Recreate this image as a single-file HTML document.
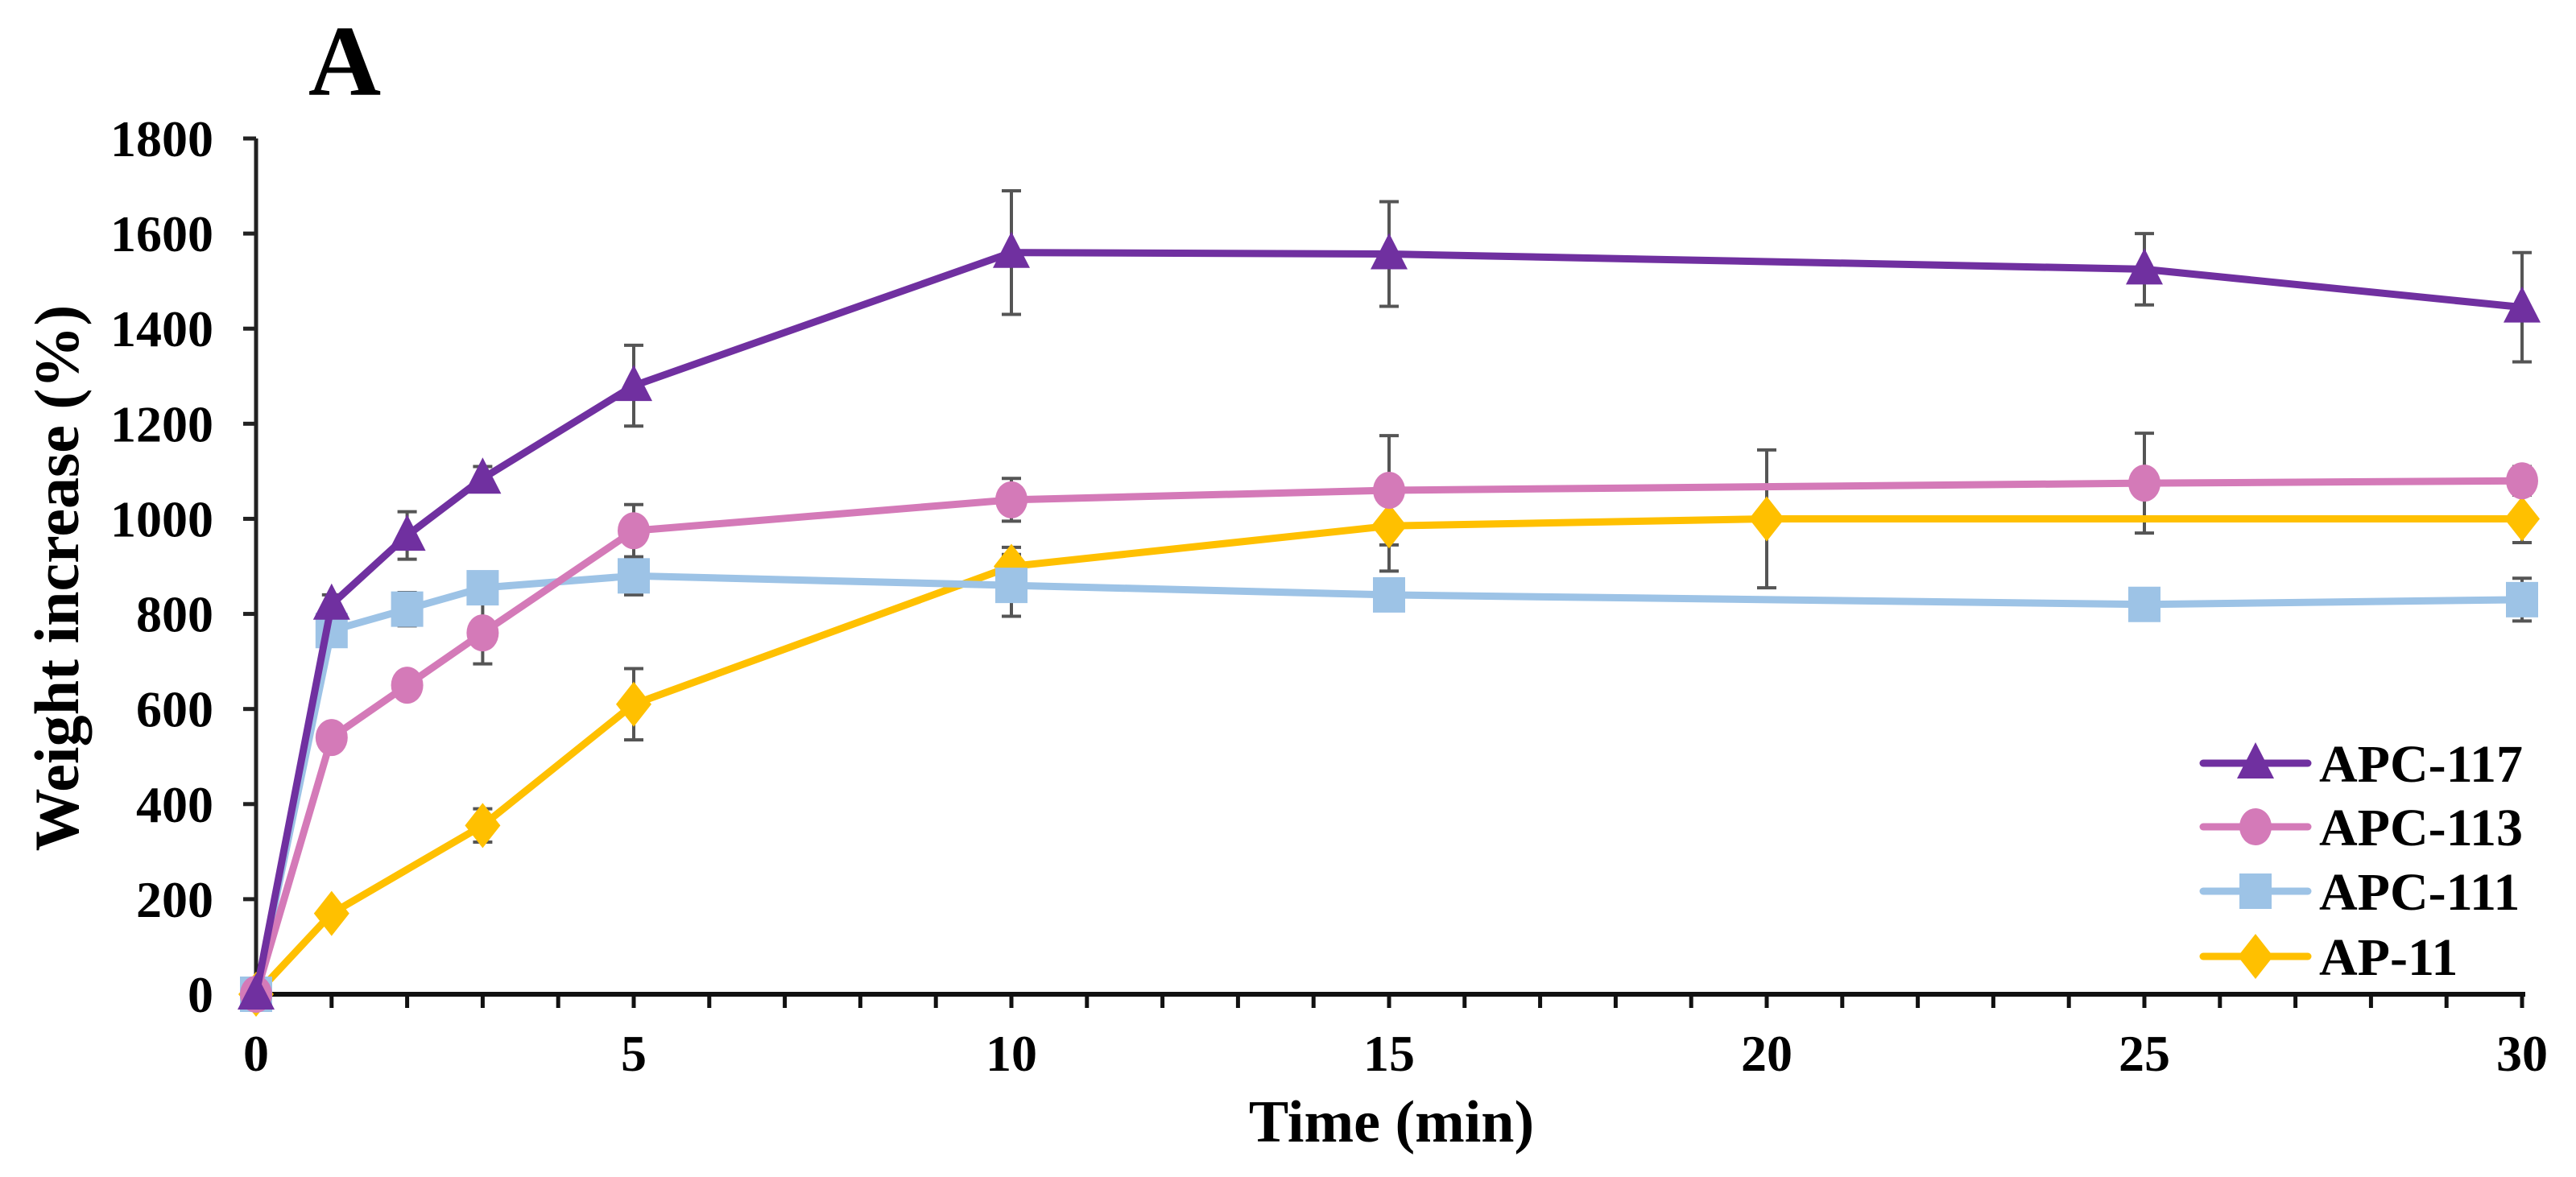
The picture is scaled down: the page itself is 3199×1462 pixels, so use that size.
<!DOCTYPE html>
<html><head><meta charset="utf-8"><style>
html,body{margin:0;padding:0;background:#fff;}
svg{display:block;font-family:"Liberation Serif",serif;font-weight:bold;}
</style></head><body>
<svg id="chart" width="3199" height="1462" viewBox="0 0 3199 1462" xmlns="http://www.w3.org/2000/svg">
<text x="428" y="118" font-size="125" text-anchor="middle">A</text>
<text transform="translate(97,718) rotate(-90)" font-size="78" text-anchor="middle">Weight increase (%)</text>
<text x="1728" y="1418" font-size="74" text-anchor="middle">Time (min)</text>
<g id="axes"></g><g id="marks"></g><g id="legend"></g>
</svg>
<script>
const yTicks=[0,200,400,600,800,1000,1200,1400,1600,1800];
const xTicks=[0,5,10,15,20,25,30];
const seriesNames=["APC-117","APC-113","APC-111","AP-11"];
const t117=[0,1,2,3,5,10,15,25,30];
const v117=[0,820,965,1085,1280,1560,1557,1525,1445];
const e117=[0,20,50,25,85,130,110,75,115];
const t113=[0,1,2,3,5,10,15,25,30];
const v113=[0,540,650,760,975,1040,1060,1075,1080];
const e113=[0,15,15,65,55,45,115,105,30];
const t111=[0,1,2,3,5,10,15,25,30];
const v111=[0,765,810,855,880,860,840,820,830];
const e111=[0,15,35,20,40,65,10,10,45];
const t11=[0,1,3,5,10,15,20,30];
const v11=[0,170,355,610,900,985,1000,1000];
const e11=[0,15,35,75,40,95,145,50];

const NS="http://www.w3.org/2000/svg";
const X0=318,X1=3132,Y0=1235,Y1=172;
const xs=t=>X0+(X1-X0)*t/30;
const ys=v=>Y0-(Y0-Y1)*v/1800;
function mk(tag,attrs,parent){const e=document.createElementNS(NS,tag);for(const k in attrs)e.setAttribute(k,attrs[k]);parent.appendChild(e);return e;}
const axes=document.getElementById('axes'),marks=document.getElementById('marks'),legend=document.getElementById('legend');

let yl=mk('line',{x1:X0,y1:Y1,x2:X0,y2:Y0,stroke:'#222','stroke-width':5},axes);


let xl=mk('line',{x1:X0,y1:Y0,x2:X1+4,y2:Y0,stroke:'#111','stroke-width':6},axes);


yTicks.forEach(v=>{
  const tk=mk('line',{x1:X0-16,y1:ys(v),x2:X0,y2:ys(v),stroke:'#222','stroke-width':5},axes);
  
  
  const tx=mk('text',{x:265,y:ys(v)+22,'font-size':64,'text-anchor':'end'},axes);
  tx.textContent=v;
  
  
});
for(let m=1;m<=30;m++){
  const tk=mk('line',{x1:xs(m),y1:Y0,x2:xs(m),y2:Y0+17,stroke:'#111','stroke-width':5},axes);
  
  
}
xTicks.forEach(t=>{
  const tx=mk('text',{x:xs(t),y:1330,'font-size':64,'text-anchor':'middle'},axes);
  tx.textContent=t;
  
  
});

const colors=['#7030a0','#d47ab8','#9dc3e6','#ffc000'];
const shapes=['tri','circle','square','diamond'];
const data=[[t117,v117,e117],[t113,v113,e113],[t111,v111,e111],[t11,v11,e11]];
function marker(shape,x,y,c,parent){
  let s=20,el;
  if(shape==='tri') el=mk('polygon',{points:`${x},${y-s-6} ${x+s+3},${y+s-1} ${x-s-3},${y+s-1}`,fill:c},parent);
  else if(shape==='circle') el=mk('ellipse',{cx:x,cy:y,rx:s,ry:s+3,fill:c},parent);
  else if(shape==='square') el=mk('rect',{x:x-s,y:y-s-2,width:2*s,height:2*s+4,fill:c},parent);
  else el=mk('polygon',{points:`${x},${y-s-8} ${x+s+2},${y} ${x},${y+s+8} ${x-s-2},${y}`,fill:c},parent);
  return el;
}
data.forEach((d,si)=>{
  d[0].forEach((t,i)=>{
    if(!d[2][i])return;
    const x=xs(t),ya=ys(d[1][i]+d[2][i]),yb=ys(d[1][i]-d[2][i]);
    const g=mk('g',{stroke:'#555','stroke-width':4},marks);
    
    
    mk('line',{x1:x,y1:ya,x2:x,y2:yb},g);
    mk('line',{x1:x-12,y1:ya,x2:x+12,y2:ya},g);
    mk('line',{x1:x-12,y1:yb,x2:x+12,y2:yb},g);
  });
});
[3,2,1,0].forEach(si=>{
  const d=data[si];
  const pts=d[0].map((t,i)=>xs(t)+','+ys(d[1][i])).join(' ');
  const pl=mk('polyline',{points:pts,fill:'none',stroke:colors[si],'stroke-width':9,'stroke-linejoin':'round'},marks);
  
  
  d[0].forEach((t,i)=>{
    const m=marker(shapes[si],xs(t),ys(d[1][i]),colors[si],marks);
    
    
  });
});
const ly=[948,1027,1107,1188];
seriesNames.forEach((n,i)=>{
  const g=mk('g',{},legend);
  
  
  mk('line',{x1:2736,y1:ly[i],x2:2866,y2:ly[i],stroke:colors[i],'stroke-width':9,'stroke-linecap':'round'},g);
  marker(shapes[i],2801,ly[i],colors[i],g);
  const tx=mk('text',{x:2880,y:ly[i]+23,'font-size':66},g);
  tx.textContent=n;
});
</script>
</body></html>
